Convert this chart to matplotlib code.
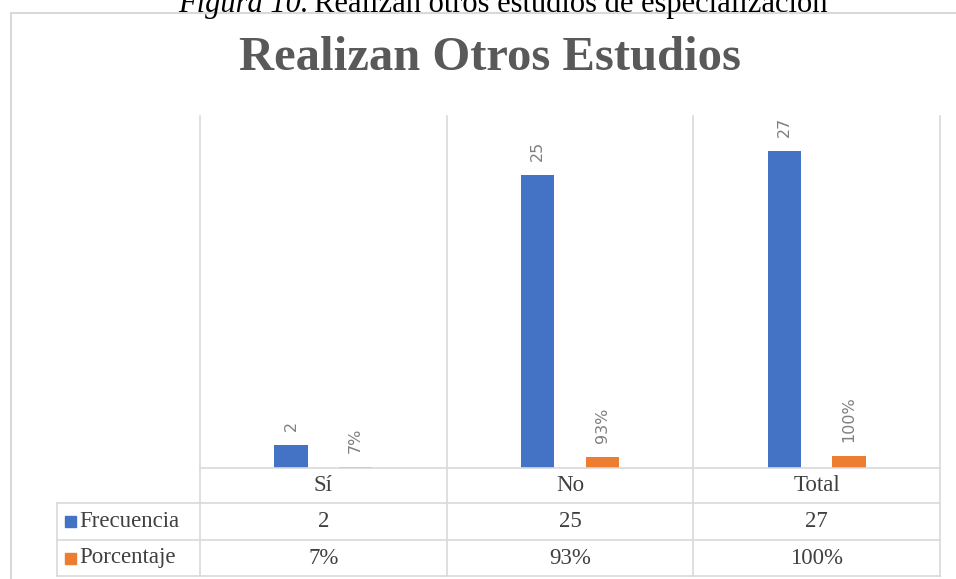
import matplotlib.pyplot as plt
import matplotlib.patches as patches
from matplotlib.transforms import blended_transform_factory

# datos
categorias = ['Sí', 'No', 'Total']
frecuencia = [2, 25, 27]
porcentaje = [0.07, 0.93, 1.00]
etiquetas_pct = ['7%', '93%', '100%']
series = ['Frecuencia', 'Porcentaje']

azul = '#4472C4'
naranja = '#ED7D31'
gris_linea = '#D9D9D9'
serif = ['Liberation Serif', 'DejaVu Serif']

fig = plt.figure(figsize=(9.56, 5.79), dpi=100)
W, H = 956, 579

# área del gráfico en píxeles: x 200..940, y 116..468
ax = fig.add_axes([200 / W, (H - 468) / H, 740 / W, 352 / H])
ax.set_xlim(-0.5, 2.5)
ax.set_ylim(0, 30)
for s in ax.spines.values():
    s.set_visible(False)
ax.set_xticks([])
ax.set_yticks([])

x = range(len(categorias))
ancho = 0.134
desp = 0.131
b1 = ax.bar([i - desp for i in x], frecuencia, ancho, color=azul)
b2 = ax.bar([i + desp for i in x], porcentaje, ancho, color=naranja)

# etiquetas de datos
for i, v in enumerate(frecuencia):
    ax.annotate(str(v), (i - desp, v), xytext=(0, 10), textcoords='offset points',
                rotation=90, ha='center', va='bottom', fontsize=11.5, color='#7F7F7F')
for i, v in enumerate(porcentaje):
    ax.annotate(etiquetas_pct[i], (i + desp, v), xytext=(0, 10), textcoords='offset points',
                rotation=90, ha='center', va='bottom', fontsize=11.5, color='#7F7F7F')

# tabla de datos debajo del gráfico
tr = blended_transform_factory(ax.transData, ax.transAxes)
px = lambda p: (468 - p) / 352  # pixel y -> fracción del eje
y_filas = [px(468), px(503), px(540), px(576)]
x_leg = -0.5 - (200 - 57) / 740 * 3

# líneas verticales
for xv in [-0.5, 0.5, 1.5, 2.5]:
    ax.plot([xv, xv], [1, y_filas[3]], transform=tr, color=gris_linea, lw=1.2, clip_on=False)
ax.plot([x_leg, x_leg], [y_filas[1], y_filas[3]], transform=tr, color=gris_linea, lw=1.2, clip_on=False)
# líneas horizontales
ax.plot([-0.5, 2.5], [0, 0], transform=tr, color=gris_linea, lw=1.2, clip_on=False)
for yv in y_filas[1:]:
    ax.plot([x_leg, 2.5], [yv, yv], transform=tr, color=gris_linea, lw=1.2, clip_on=False)

color_txt = '#404040'
fila_cat = (y_filas[0] + y_filas[1]) / 2
fila_f = (y_filas[1] + y_filas[2]) / 2
fila_p = (y_filas[2] + y_filas[3]) / 2
for i, c in enumerate(categorias):
    ax.text(i, fila_cat, c, transform=tr, ha='center', va='center',
            fontsize=16.5, family=serif, color=color_txt)
    ax.text(i, fila_f, str(frecuencia[i]), transform=tr, ha='center', va='center',
            fontsize=16.5, family=serif, color=color_txt)
    ax.text(i, fila_p, etiquetas_pct[i], transform=tr, ha='center', va='center',
            fontsize=16.5, family=serif, color=color_txt)

# leyenda dentro de la tabla
for yv, nombre, col in [(fila_f, series[0], azul), (fila_p, series[1], naranja)]:
    yfig = 1 - (468 - yv * 352) / H
    fig.patches.append(patches.Rectangle((65 / W, yfig - 5.5 / H), 11 / W, 11 / H,
                                         transform=fig.transFigure, color=col))
    fig.text(79 / W, yfig, nombre, ha='left', va='center', fontsize=16.5,
             family=serif, color=color_txt)

# título
fig.text(490 / W, 1 - 58 / H, 'Realizan Otros Estudios', ha='center', va='center',
         fontsize=35, fontweight='bold', family=serif, color='#595959')

# borde del gráfico
fig.patches.append(patches.Rectangle((11 / W, -0.05), 1.0, 1 - 13 / H + 0.05,
                                     transform=fig.transFigure, fill=False,
                                     edgecolor=gris_linea, lw=1.5))

# pie de figura (recortado arriba)
fig.text(309 / W, 1 - 12 / H, 'Figura 10.', ha='right', va='baseline',
         fontsize=22, style='italic', family=serif, color='black')
fig.text(314 / W, 1 - 12 / H, 'Realizan otros estudios de especialización', ha='left',
         va='baseline', fontsize=22, family=serif, color='black')

fig.savefig('out.png', dpi=100)
